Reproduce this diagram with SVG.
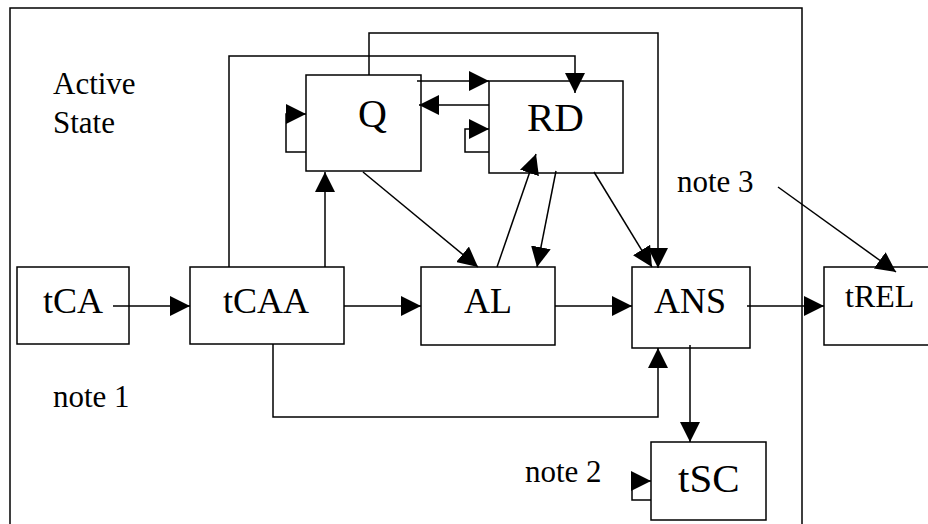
<svg xmlns="http://www.w3.org/2000/svg" width="928" height="524" viewBox="0 0 928 524">
<style>
.box{fill:#fff;stroke:#000;stroke-width:1.5}
.lbl{font-family:"Liberation Serif","Times New Roman",serif;fill:#000}
.c{fill:none;stroke:#000;stroke-width:1.5;marker-end:url(#ah)}
.cn{fill:none;stroke:#000;stroke-width:1.5}
</style>
<defs>
<marker id="ah" markerUnits="userSpaceOnUse" markerWidth="20" markerHeight="20" refX="20" refY="10" orient="auto" viewBox="0 0 20 20">
<path d="M0,0 L20,10 L0,20 z" fill="#000"/>
</marker>
</defs>
<rect width="928" height="524" fill="#fff"/>
<g id="frame">
<path class="cn" d="M10,524 V8 H802 V524"/>
<text class="lbl" x="53" y="94" font-size="31">Active</text>
<text class="lbl" x="53" y="133" font-size="31">State</text>
</g>
<g id="tCA"><rect class="box" x="17" y="267" width="112" height="77"/><text class="lbl" x="43" y="313" font-size="36">tCA</text></g>
<g id="tCAA"><rect class="box" x="190" y="267" width="154" height="77"/><text class="lbl" x="223" y="313" font-size="36">tCAA</text></g>
<g id="AL"><rect class="box" x="421" y="267" width="134" height="78"/><text class="lbl" x="464" y="313" font-size="36">AL</text></g>
<g id="ANS"><rect class="box" x="632" y="267" width="118" height="81"/><text class="lbl" x="654" y="313" font-size="36">ANS</text></g>
<g id="tREL"><rect class="box" x="824" y="267" width="110" height="78"/><text class="lbl" x="845" y="307" font-size="32">tREL</text></g>
<g id="tSC"><rect class="box" x="651" y="442" width="115" height="78"/><text class="lbl" x="678" y="492" font-size="41">tSC</text></g>
<g id="Q"><rect class="box" x="306" y="75" width="115" height="96"/><text class="lbl" x="358" y="127" font-size="40">Q</text></g>
<g id="RD"><rect class="box" x="489" y="81" width="134" height="92"/><text class="lbl" x="527" y="131" font-size="41">RD</text></g>
<g id="notes">
<text class="lbl" x="53" y="407" font-size="31">note 1</text>
<text class="lbl" x="525" y="482" font-size="31">note 2</text>
<text class="lbl" x="677" y="192" font-size="31">note 3</text>
</g>
<g id="connectors">
<path class="c" d="M113,306 H190"/>
<path class="c" d="M344,306 H421"/>
<path class="c" d="M555,306 H632"/>
<path class="c" d="M747,306 H824"/>
<path class="c" d="M690,345 V442"/>
<path class="c" d="M273,344 V417 H658 V348"/>
<path class="c" d="M325,267 V172"/>
<path class="c" d="M229,267 V56 H575 V93"/>
<path class="c" d="M369,75 V33 H658 V268"/>
<path class="c" d="M417,81 H489"/>
<path class="c" d="M489,105 H419"/>
<path class="c" d="M306,152 H286 V114 H306"/>
<path class="c" d="M489,152 H465 V129 H489"/>
<path class="c" d="M363,172 L478,267"/>
<path class="c" d="M497,267 L536,154"/>
<path class="c" d="M556,171 L537,267"/>
<path class="c" d="M594,172 L652,267"/>
<path class="c" d="M778,187 L896,272"/>
<path class="c" d="M651,500 H632 V481 H651"/>
</g>
</svg>
